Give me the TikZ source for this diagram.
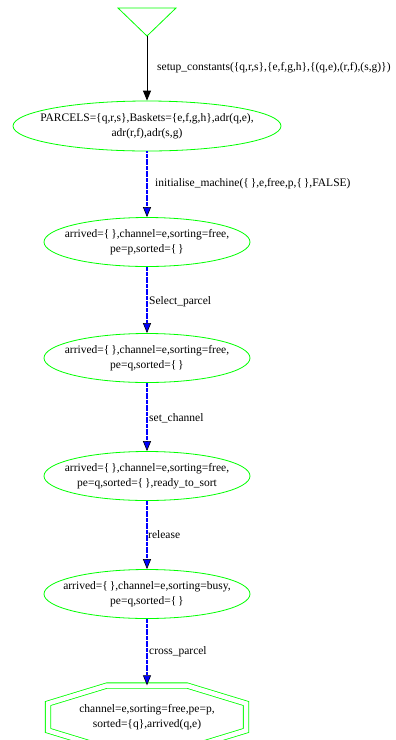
\documentclass[tikz,border=0pt]{standalone}
\usepackage{fontspec}
\setmainfont{Liberation Serif}
\usetikzlibrary{arrows.meta,shapes.geometric}
\begin{document}
\begin{tikzpicture}[x=1pt,y=-1pt,
  state/.style={ellipse, draw=green, line width=0.8pt, minimum width=206pt, minimum height=49pt, inner xsep=-30pt, inner ysep=0pt, align=center, font=\fontsize{11.5}{15}\selectfont},
  lbl/.style={anchor=west, inner sep=0pt, font=\fontsize{11.5}{13}\selectfont},
  firsttr/.style={black, line width=1pt, -{Triangle[length=10pt,width=8pt]}},
  tr/.style={blue, dash pattern=on 2pt off 0.4pt, line width=1.1pt, -{Triangle[length=10pt,width=8pt,fill=blue,color=black,line width=0.6pt]}},
  octo/.style={draw=green, double=white, double distance=4.5pt, line width=0.8pt}
]
\useasboundingbox (0,0) rectangle (396,740);
\fill[white] (0,0) rectangle (396,740);
\clip (0,0) rectangle (396,740);

% initial triangle
\draw[green, line width=0.8pt] (118,8) -- (176,8) -- (147,36) -- cycle;
\coordinate (init) at (147,36);

\node[state, minimum width=268pt, minimum height=50pt] (s1) at (147,126) {PARCELS=\{q,r,s\},Baskets=\{e,f,g,h\},adr(q,e),\\adr(r,f),adr(s,g)};
\node[state] (s2) at (147,242) {arrived=\{\,\},channel=e,sorting=free,\\pe=p,sorted=\{\,\}};
\node[state] (s3) at (147,358) {arrived=\{\,\},channel=e,sorting=free,\\pe=q,sorted=\{\,\}};
\node[state] (s4) at (147,476) {arrived=\{\,\},channel=e,sorting=free,\\pe=q,sorted=\{\,\},ready\_to\_sort};
\node[state] (s5) at (147,594) {arrived=\{\,\},channel=e,sorting=busy,\\pe=q,sorted=\{\,\}};
\node[minimum width=198pt, minimum height=63pt, inner sep=0pt, align=center, font=\fontsize{11.5}{15}\selectfont] (s6) at (147,717) {channel=e,sorting=free,pe=p,\\sorted=\{q\},arrived(q,e)};
\draw[octo] (107,685.5) -- (187,685.5) -- (246,703.5) -- (246,730.5) -- (187,748.5) -- (107,748.5) -- (48,730.5) -- (48,703.5) -- cycle;

\draw[firsttr] (init) -- (s1.north);
\draw[tr] (s1.south) -- (s2.north);
\draw[tr] (s2.south) -- (s3.north);
\draw[tr] (s3.south) -- (s4.north);
\draw[tr] (s4.south) -- (s5.north);
\draw[tr] (s5.south) -- (s6.north);

\node[lbl] (l1) at (157,68) {setup\_constants(\{q,r,s\},\{e,f,g,h\},\{(q,e),(r,f),(s,g)\})};
\node[lbl] (l2) at (155,184) {initialise\_machine(\{\,\},e,free,p,\{\,\},FALSE)};
\node[lbl] (l3) at (149,302) {Select\_parcel};
\node[lbl] (l4) at (149,418) {set\_channel};
\node[lbl] (l5) at (148,535) {release};
\node[lbl] (l6) at (149,652) {cross\_parcel};
\end{tikzpicture}
\end{document}
